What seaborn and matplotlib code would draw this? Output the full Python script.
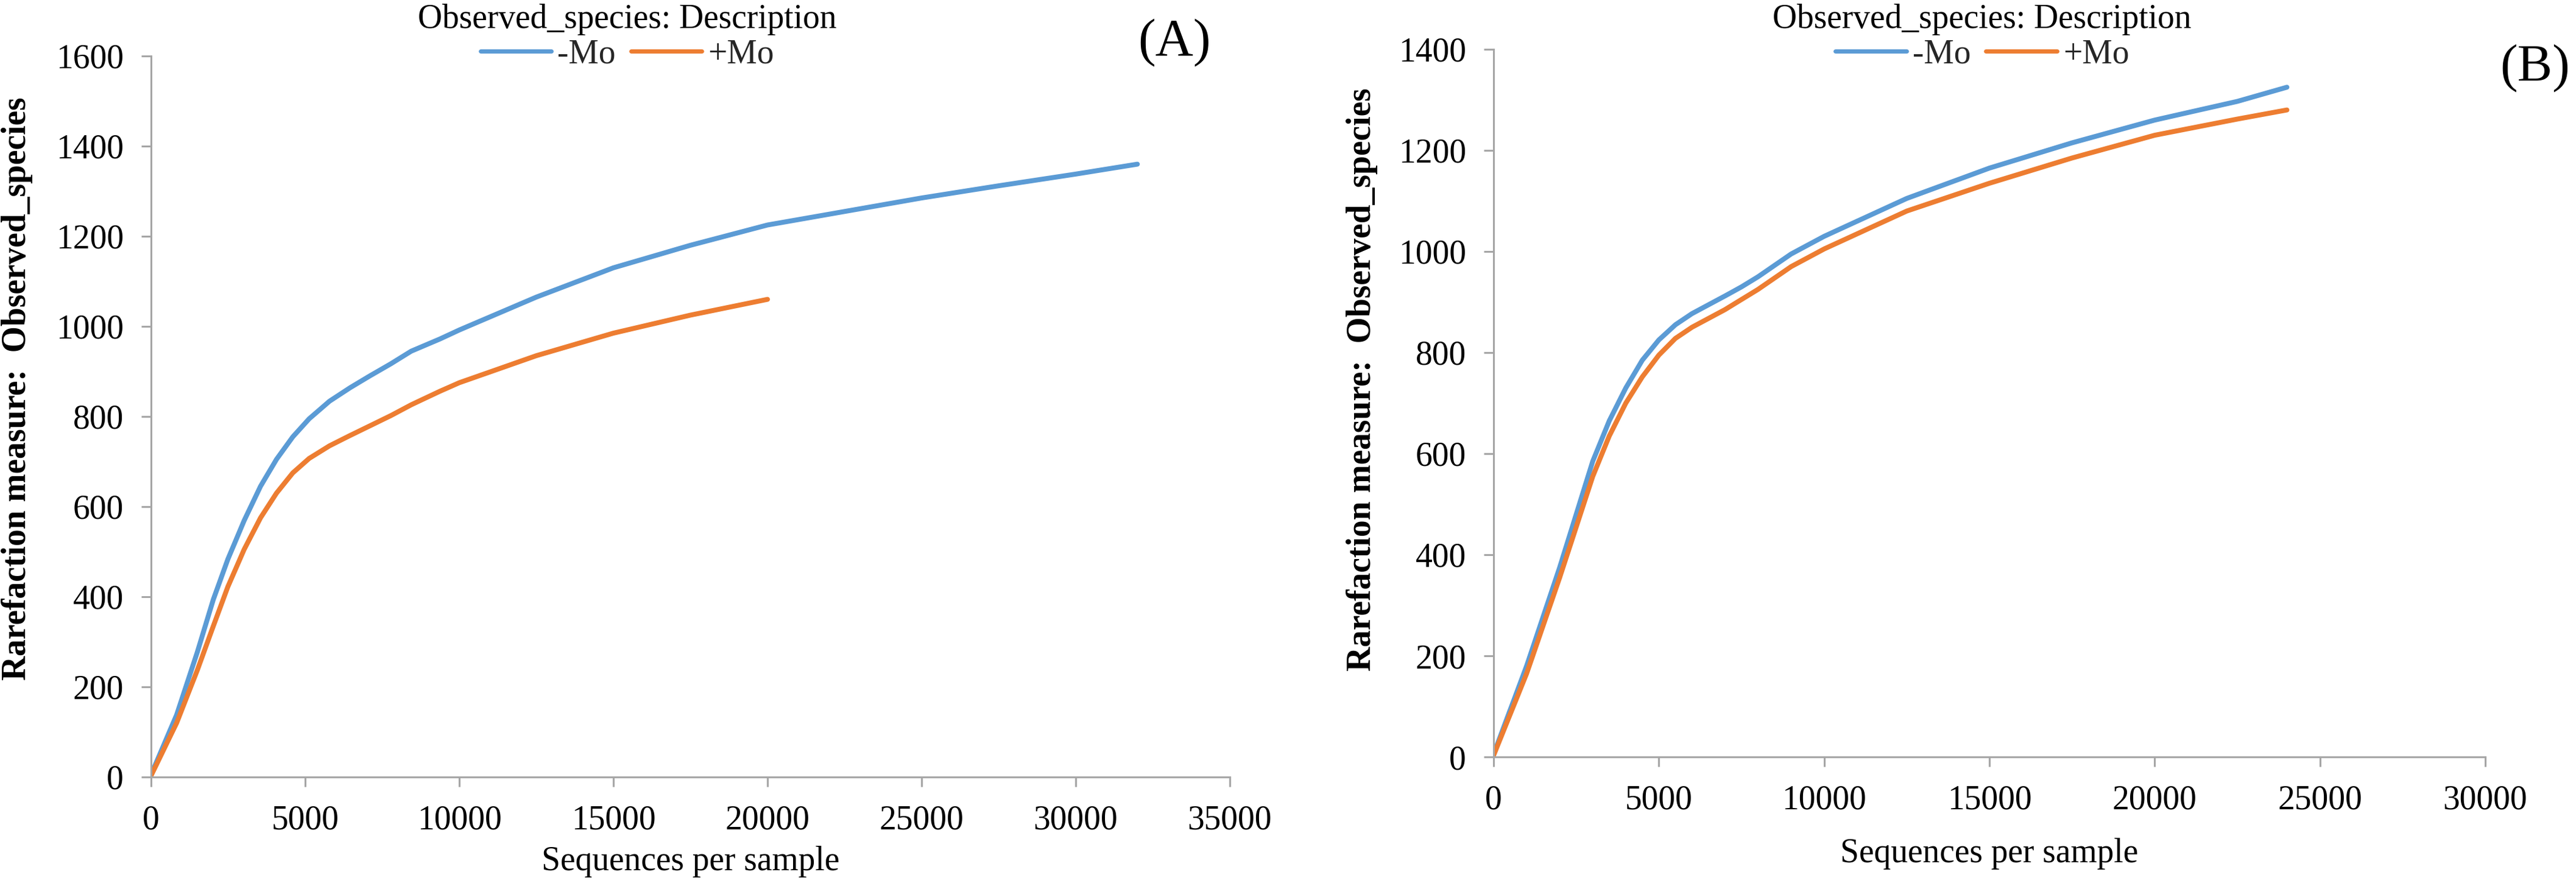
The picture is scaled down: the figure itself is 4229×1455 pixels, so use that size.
import matplotlib
matplotlib.use("Agg")
import matplotlib.pyplot as plt
import seaborn as sns
import pandas as pd

# ---------------- data ----------------
series_names = ["-Mo", "+Mo"]
legend_title = "Observed_species: Description"

A_x_minus = [0, 830, 1500, 2020, 2490, 3020, 3550, 4070, 4600, 5130, 5790, 6460, 7120, 7780,
             8440, 9370, 10000, 12500, 15000, 17500, 20000, 22500, 25000, 27500, 30000, 32000]
A_y_minus = [5, 138, 277, 394, 483, 569, 645, 705, 755, 795, 834, 864, 891, 917,
             945, 972, 992, 1065, 1130, 1180, 1225, 1255, 1285, 1312, 1338, 1360]
A_x_plus = [0, 830, 1500, 2020, 2490, 3020, 3550, 4070, 4600, 5130, 5790, 6460, 7120, 7780,
            8440, 9370, 10000, 12500, 15000, 17500, 20000]
A_y_plus = [3, 120, 237, 335, 422, 505, 575, 630, 675, 707, 735, 758, 780, 802,
            826, 856, 875, 935, 985, 1025, 1060]

B_x_minus = [0, 1000, 2000, 3000, 3500, 4000, 4500, 5000, 5500, 6000, 7000, 7500, 8000, 9000,
             10000, 12500, 15000, 17500, 20000, 22500, 24000]
B_y_minus = [5, 180, 375, 585, 665, 730, 785, 825, 855, 877, 912, 930, 950, 995,
             1030, 1105, 1165, 1215, 1260, 1297, 1325]
B_x_plus = [0, 1000, 2000, 3000, 3500, 4000, 4500, 5000, 5500, 6000, 7000, 7500, 8000, 9000,
            10000, 12500, 15000, 17500, 20000, 22500, 24000]
B_y_plus = [3, 165, 355, 555, 635, 700, 752, 795, 828, 850, 885, 905, 925, 970,
            1005, 1080, 1135, 1185, 1230, 1262, 1280]

A_xticks = [0, 5000, 10000, 15000, 20000, 25000, 30000, 35000]
A_yticks = [0, 200, 400, 600, 800, 1000, 1200, 1400, 1600]
B_xticks = [0, 5000, 10000, 15000, 20000, 25000, 30000]
B_yticks = [0, 200, 400, 600, 800, 1000, 1200, 1400]

x_label = "Sequences per sample"
y_label = "Rarefaction measure:  Observed_species"
panel_labels = ["(A)", "(B)"]

# ---------------- style ----------------
sns.set_theme(style="white")
plt.rcParams["font.family"] = ["Liberation Serif", "DejaVu Serif"]
plt.rcParams["axes.unicode_minus"] = False

palette = {"-Mo": "#5B9BD5", "+Mo": "#ED7D31"}
spine_col = "#A6A6A6"
FS = 40

W, H = 4229, 1455
fig = plt.figure(figsize=(W / 100, H / 100), dpi=100)

axA = fig.add_axes([248 / W, 1 - 1276 / H, (2019 - 248) / W, (1276 - 92) / H])
axB = fig.add_axes([2452 / W, 1 - 1243 / H, (4080 - 2452) / W, (1243 - 81) / H])


def make_df(xm, ym, xp, yp):
    d1 = pd.DataFrame({"x": xm, "y": ym, "Series": series_names[0]})
    d2 = pd.DataFrame({"x": xp, "y": yp, "Series": series_names[1]})
    return pd.concat([d1, d2], ignore_index=True)


dfA = make_df(A_x_minus, A_y_minus, A_x_plus, A_y_plus)
dfB = make_df(B_x_minus, B_y_minus, B_x_plus, B_y_plus)

configs = [
    (axA, dfA, A_xticks, A_yticks, (-0.1242, 0.539), (0.5, -0.1174), 0.2435),
    (axB, dfB, B_xticks, B_yticks, (-0.1327, 0.5336), (0.5, -0.1368), 0.7695),
]

for ax, df, xt, yt, ylc, xlc, legx in configs:
    sns.lineplot(data=df, x="x", y="y", hue="Series", hue_order=series_names,
                 palette=palette, sort=False, estimator=None, linewidth=5.8, ax=ax)
    for ln in ax.get_lines():
        ln.set_solid_capstyle("round")
        ln.set_solid_joinstyle("round")
    ax.set_xlim(xt[0], xt[-1])
    ax.set_ylim(yt[0], yt[-1])
    ax.set_xticks(xt)
    ax.set_yticks(yt)
    ax.set_xticklabels([str(v) for v in xt])
    ax.set_yticklabels([str(v) for v in yt])
    for s in ["top", "right"]:
        ax.spines[s].set_visible(False)
    for s in ["left", "bottom"]:
        ax.spines[s].set_color(spine_col)
        ax.spines[s].set_linewidth(2.2)
    ax.tick_params(axis="both", which="major", direction="out", length=11.5, width=2.2,
                   color=spine_col, labelsize=FS, labelcolor="black", pad=21,
                   bottom=True, left=True)
    ax.set_xlabel(x_label, fontsize=FS, color="black")
    ax.set_ylabel(y_label, fontsize=FS, fontweight="bold", color="black")
    ax.xaxis.set_label_coords(*xlc)
    ax.xaxis.label.set_va("center")
    ax.yaxis.set_label_coords(*ylc)
    ax.yaxis.label.set_va("center")
    ax.grid(False)
    sns.move_legend(ax, "upper center", bbox_to_anchor=(legx, 1.0), bbox_transform=fig.transFigure,
                    ncol=2, title=legend_title, frameon=False, fontsize=FS, title_fontsize=FS,
                    handlelength=2.1, handletextpad=0.18, columnspacing=0.45, borderpad=0.0,
                    borderaxespad=0.1, labelspacing=0.1)
    leg = ax.get_legend()
    leg.get_title().set_color("black")
    for line in leg.get_lines():
        line.set_linewidth(5)

fig.text(1928 / W, 1 - 70 / H, panel_labels[0], fontsize=62, ha="center", va="center", color="black")
fig.text(4162 / W, 1 - 112 / H, panel_labels[1], fontsize=62, ha="center", va="center", color="black")

fig.savefig("out.png", dpi=100, facecolor="white")
